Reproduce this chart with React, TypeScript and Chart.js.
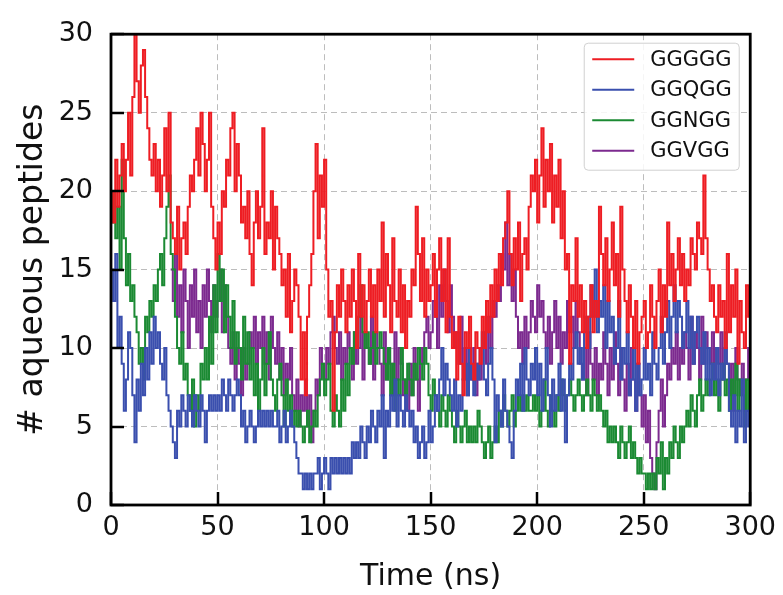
import React, { useEffect, useRef } from "react";
import { Chart, registerables } from "chart.js";

Chart.register(...registerables);

const SERIES_NAMES = ["GGGGG", "GGQGG", "GGNGG", "GGVGG"];
const SERIES_COLORS = ["#ee1d23", "#3a4fae", "#1b8a33", "#7c2a8f"];
const X_TICKS = [0, 50, 100, 150, 200, 250, 300];
const Y_TICKS = [0, 5, 10, 15, 20, 25, 30];
// time in ns, one sample per ns
const TIMES = Array.from({ length: 301 }, (_, i) => i);

const GGGGG = [
  20,18,22,19,21,23,20,22,25,21,
  26,30,27,25,28,29,26,24,22,21,
  23,20,22,19,21,24,20,25,18,17,
  16,19,15,17,18,16,19,21,20,22,
  24,21,25,23,20,22,25,19,17,15,
  18,16,20,19,22,21,24,25,20,23,
  21,18,19,17,20,16,14,18,20,17,
  19,24,16,18,17,20,15,19,17,16,
  14,15,12,16,11,13,15,14,12,8,
  11,7,12,14,16,20,23,17,21,19,
  22,15,12,13,6,11,14,12,15,13,
  11,14,12,15,13,10,16,12,14,11,
  13,15,12,14,11,15,13,18,12,16,
  14,11,17,13,12,15,11,14,10,13,
  12,15,14,19,16,13,17,12,15,13,
  14,16,12,15,17,13,15,11,17,12,
  10,11,8,12,9,7,11,10,12,9,
  8,11,10,9,12,10,13,11,14,12,
  15,13,16,14,17,18,20,16,14,17,
  15,18,13,16,17,15,19,21,20,22,
  18,21,24,19,22,20,23,18,21,19,
  22,17,20,15,16,9,14,13,17,12,
  14,11,13,10,12,14,11,13,12,19,
  16,14,17,13,15,18,14,16,12,19,
  15,13,11,14,12,10,13,9,11,12,
  13,10,11,14,12,10,13,15,11,14,
  12,18,14,16,13,15,17,14,16,13,
  15,14,17,16,15,18,17,16,21,17,
  15,13,14,12,11,14,12,13,10,16,
  11,14,12,15,9,13,11,10,14,12,
  15,
];

const GGQGG = [
  15,13,16,10,12,9,6,8,11,10,
  7,4,8,6,9,7,10,8,11,9,
  12,10,11,9,8,10,7,6,5,4,
  3,6,5,7,6,5,7,6,5,7,
  6,5,7,6,4,6,7,6,7,6,
  7,6,8,7,6,8,7,6,7,8,
  7,5,6,4,5,6,5,4,5,6,
  5,6,5,6,5,6,5,5,6,4,
  5,6,4,5,6,5,4,3,2,2,
  1,2,1,2,1,2,2,3,1,2,
  3,2,1,3,2,3,2,3,2,3,
  2,3,2,4,3,4,3,5,4,3,
  5,4,6,5,4,6,5,7,3,6,
  5,7,6,8,5,7,6,5,7,6,
  5,6,4,5,3,4,5,3,4,6,
  4,5,7,6,8,10,7,9,8,7,
  6,8,5,7,6,8,9,7,10,8,
  7,9,8,10,11,8,7,9,10,8,
  4,7,6,5,8,6,5,4,3,6,
  8,7,9,6,10,8,7,9,8,10,
  7,9,6,8,10,7,5,8,6,7,
  9,6,8,4,7,9,8,10,11,9,
  10,8,11,12,10,14,12,15,11,13,
  12,14,10,13,11,12,9,10,13,8,
  10,9,11,7,8,10,6,9,7,8,
  10,8,9,7,11,9,8,10,12,9,
  11,13,10,12,14,11,13,12,10,11,
  13,10,12,9,11,12,10,9,11,8,
  10,7,9,8,10,7,9,8,11,9,
  6,5,7,4,6,5,8,4,6,5,
  4,
];

const GGNGG = [
  18,20,17,19,15,22,17,14,16,13,
  14,12,11,9,10,8,12,11,13,12,
  14,13,15,16,14,17,19,21,16,15,
  12,10,9,11,8,9,7,6,8,5,
  7,6,9,8,10,8,12,9,14,11,
  16,13,15,11,14,12,10,13,9,11,
  10,8,12,9,11,8,10,7,9,6,
  8,10,7,9,11,8,7,6,8,9,
  7,5,8,6,7,5,6,5,6,5,
  4,5,6,4,5,6,5,7,8,9,
  7,8,9,6,5,7,6,5,8,6,
  9,7,10,9,11,10,12,14,11,10,
  11,9,10,11,9,10,11,10,9,8,
  10,7,9,6,8,7,10,8,7,9,
  8,7,9,8,10,9,8,10,9,7,
  6,8,7,6,5,7,6,5,7,6,
  5,4,6,5,4,5,6,4,5,4,
  5,4,6,5,4,3,4,5,3,4,
  5,4,6,5,7,6,5,6,7,5,
  6,7,6,7,6,7,6,6,7,6,
  7,5,6,8,6,5,7,6,5,7,
  6,8,7,6,7,8,7,6,7,8,
  7,6,7,8,7,6,8,7,6,7,
  6,5,6,4,5,4,5,4,3,5,
  4,3,4,5,3,4,3,2,3,2,
  2,1,2,1,2,1,3,2,4,1,
  3,2,4,3,5,4,3,5,4,5,
  6,5,7,6,5,7,8,6,7,8,
  7,8,9,7,8,6,8,9,7,8,
  6,8,7,9,6,8,7,5,8,6,
  8,
];

const GGVGG = [
  null,null,null,null,null,null,null,null,null,null,
  null,null,null,null,null,null,null,null,null,null,
  null,null,null,null,null,null,null,null,15,13,
  16,12,14,11,15,13,10,14,12,15,
  11,13,10,14,12,15,13,11,14,12,
  13,15,11,14,12,10,9,11,8,10,
  9,7,10,8,9,11,10,12,9,11,
  10,12,9,11,8,12,10,9,11,8,
  10,7,9,8,10,7,6,8,5,7,
  6,8,5,7,4,6,8,7,10,9,
  8,10,9,11,12,10,9,11,8,10,
  9,11,10,8,11,9,10,12,8,11,
  10,9,12,8,11,10,9,7,11,8,
  10,9,7,11,8,10,9,7,8,6,
  9,7,10,8,6,10,9,11,12,10,
  11,13,12,10,14,12,15,13,11,14,
  12,10,11,9,12,8,10,7,9,8,
  10,7,9,8,10,11,9,12,10,13,
  12,14,13,16,15,18,14,16,13,15,
  12,10,11,9,12,10,11,13,12,11,
  14,12,13,11,10,12,9,11,13,10,
  12,9,11,10,13,11,12,10,13,11,
  9,8,10,7,11,9,8,10,7,9,
  8,11,9,7,10,8,11,9,7,10,
  8,6,9,7,10,8,6,9,7,5,
  7,4,6,3,2,1,4,6,8,5,
  7,9,8,10,9,11,8,10,9,11,
  10,8,12,9,11,10,8,12,9,11,
  10,9,11,8,10,9,11,8,10,9,
  7,9,6,10,8,7,9,6,8,10,
  8,
];

const SERIES_VALUES = [GGGGG, GGQGG, GGNGG, GGVGG];

const FONT = "'DejaVu Sans', sans-serif";

const framePlugin = {
  id: "frameAndLegend",
  afterDatasetsDraw(chart: any) {
    const { ctx, chartArea: a, scales } = chart;
    ctx.save();
    ctx.strokeStyle = "#000";
    ctx.lineWidth = 2.5;
    for (const v of X_TICKS) {
      const x = Math.round(scales.x.getPixelForValue(v));
      ctx.beginPath();
      ctx.moveTo(x, a.bottom);
      ctx.lineTo(x, a.bottom - 13);
      ctx.stroke();
    }
    for (const v of Y_TICKS) {
      const y = Math.round(scales.y.getPixelForValue(v));
      ctx.beginPath();
      ctx.moveTo(a.left, y);
      ctx.lineTo(a.left + 13, y);
      ctx.stroke();
    }
    ctx.lineWidth = 2.8;
    ctx.strokeRect(a.left, a.top, a.right - a.left, a.bottom - a.top);

    // legend
    const bx = a.right - 166, by = a.top + 9, bw = 155, bh = 127;
    ctx.fillStyle = "rgba(255,255,255,0.85)";
    ctx.strokeStyle = "#d0d0d0";
    ctx.lineWidth = 1;
    ctx.beginPath();
    const r = 4;
    ctx.moveTo(bx + r, by);
    ctx.lineTo(bx + bw - r, by);
    ctx.quadraticCurveTo(bx + bw, by, bx + bw, by + r);
    ctx.lineTo(bx + bw, by + bh - r);
    ctx.quadraticCurveTo(bx + bw, by + bh, bx + bw - r, by + bh);
    ctx.lineTo(bx + r, by + bh);
    ctx.quadraticCurveTo(bx, by + bh, bx, by + bh - r);
    ctx.lineTo(bx, by + r);
    ctx.quadraticCurveTo(bx, by, bx + r, by);
    ctx.closePath();
    ctx.fill();
    ctx.stroke();

    ctx.font = `21px ${FONT}`;
    ctx.textBaseline = "middle";
    ctx.textAlign = "left";
    chart.data.datasets.forEach((ds: any, i: number) => {
      const y = by + 16 + i * 30.5;
      ctx.strokeStyle = ds.borderColor;
      ctx.lineWidth = 2;
      ctx.beginPath();
      ctx.moveTo(bx + 8, y);
      ctx.lineTo(bx + 50, y);
      ctx.stroke();
      ctx.fillStyle = "#111";
      ctx.fillText(ds.label, bx + 66, y + 1);
    });
    ctx.restore();
  },
};

export default function App() {
  const ref = useRef<HTMLCanvasElement | null>(null);

  useEffect(() => {
    if (!ref.current) return;
    const datasets = SERIES_NAMES.map((name, i) => ({
      label: name,
      data: TIMES.map((t, j) => ({ x: t, y: SERIES_VALUES[i][j] })),
      borderColor: SERIES_COLORS[i],
      backgroundColor: SERIES_COLORS[i],
      borderWidth: 2,
      pointRadius: 0,
      stepped: true,
      fill: false,
      spanGaps: false,
    }));

    const chart = new Chart(ref.current, {
      type: "line",
      data: { datasets },
      options: {
        animation: false,
        responsive: false,
        devicePixelRatio: 1,
        layout: { padding: { left: 0, right: 32, top: 27, bottom: 0 } },
        plugins: { legend: { display: false }, tooltip: { enabled: false } },
        scales: {
          x: {
            type: "linear",
            min: 0,
            max: 300,
            afterFit: (s: any) => { s.height = 90; },
            afterBuildTicks: (s: any) => { s.ticks = X_TICKS.map((v) => ({ value: v })); },
            ticks: { color: "#111", font: { family: FONT, size: 27 }, padding: 7, maxRotation: 0 },
            grid: { color: "#bdbdbd", lineWidth: 1, drawTicks: false },
            border: { display: false, dash: [6, 4] },
            title: {
              display: true,
              text: "Time (ns)",
              color: "#111",
              font: { family: FONT, size: 30 },
              padding: { top: 0, bottom: 0 },
            },
          },
          y: {
            min: 0,
            max: 30,
            afterFit: (s: any) => { s.width = 111; },
            afterBuildTicks: (s: any) => { s.ticks = Y_TICKS.map((v) => ({ value: v })); },
            ticks: { color: "#111", font: { family: FONT, size: 27 }, padding: 18 },
            grid: { color: "#bdbdbd", lineWidth: 1, drawTicks: false },
            border: { display: false, dash: [6, 4] },
            title: {
              display: true,
              text: "# aqueous peptides",
              color: "#111",
              font: { family: FONT, size: 33 },
              padding: { top: 14, bottom: 0 },
            },
          },
        },
      },
      plugins: [framePlugin],
    });
    return () => chart.destroy();
  }, []);

  return (
    <div style={{ position: "fixed", left: 0, top: 0, width: 783, height: 595, background: "#fff" }}>
      <canvas ref={ref} width={783} height={595} />
    </div>
  );
}
